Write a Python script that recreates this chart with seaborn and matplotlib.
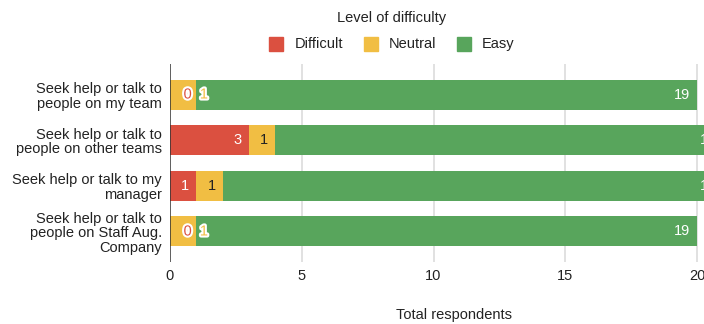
import matplotlib
matplotlib.use("Agg")
import matplotlib.pyplot as plt
import matplotlib.patheffects as pe
from matplotlib.patches import Rectangle
import seaborn as sns
import pandas as pd
import numpy as np

# --- data -------------------------------------------------------------
activities = [
    "Seek help or talk to\npeople on my team",
    "Seek help or talk to\npeople on other teams",
    "Seek help or talk to my\nmanager",
    "Seek help or talk to\npeople on Staff Aug.\nCompany",
]
levels = ["Difficult", "Neutral", "Easy"]
difficult = [0, 3, 1, 0]
neutral = [1, 1, 1, 1]
easy = [19, 17, 19, 19]
x_ticks = [0, 5, 10, 15, 20, 25]

colors = {"Difficult": "#DB5040", "Neutral": "#F1BE43", "Easy": "#58A55C"}
label_colors = {"Difficult": "white", "Neutral": "#222222", "Easy": "white"}

values = {"Difficult": np.array(difficult), "Neutral": np.array(neutral), "Easy": np.array(easy)}
cum_end = {}
running = np.zeros(len(activities))
for lv in levels:
    running = running + values[lv]
    cum_end[lv] = running.copy()

df = pd.DataFrame({"activity": activities})
for lv in levels:
    df[lv + "_end"] = cum_end[lv]

sns.set_theme(style="white")
plt.rcParams["font.family"] = ["Liberation Sans", "DejaVu Sans"]

W, H = 704, 324
fig = plt.figure(figsize=(W / 100, H / 100), dpi=100)
px_per_unit = 26.35
xmax = 25
ax = fig.add_axes([170 / W, 62 / H, xmax * px_per_unit / W, 198 / H])

# stacked bars: draw cumulative totals from the back to the front
for lv in reversed(levels):
    sns.barplot(data=df, x=lv + "_end", y="activity", orient="h",
                color=colors[lv], width=0.657, linewidth=0,
                saturation=1, ax=ax)

ax.set_xlim(0, xmax)
ax.set_ylim(3.668, -0.668)
ax.set_xticks(x_ticks)
ax.set_xticklabels([str(t) for t in x_ticks])
ax.set_xlabel("")
ax.set_ylabel("")
for s in ax.spines.values():
    s.set_visible(False)
ax.tick_params(axis="both", length=0, labelsize=10.5, colors="#222222")
ax.tick_params(axis="x", pad=5)
ax.tick_params(axis="y", pad=5.8)
for t in ax.get_yticklabels():
    t.set_linespacing(1.05)

for t in x_ticks[1:]:
    ax.axvline(t, color="#D9D9D9", lw=1.1, zorder=0)
ax.axvline(0, color="#333333", lw=1.1, zorder=5)

# value labels at the end of each segment
off = -7 * 0.72
stroke = [pe.withStroke(linewidth=3, foreground="white")]
for i in range(len(activities)):
    if difficult[i] == 0:
        n_end = cum_end["Neutral"][i]
        ax.annotate(str(difficult[i]), (n_end, i), xytext=(-4.5 * 0.72, 0),
                    textcoords="offset points", ha="right", va="center",
                    fontsize=10.5, color=colors["Difficult"], path_effects=stroke, zorder=6)
        ax.annotate(str(neutral[i]), (n_end, i), xytext=(3.5 * 0.72, 0),
                    textcoords="offset points", ha="left", va="center",
                    fontsize=10.5, color=colors["Neutral"], path_effects=stroke, zorder=6)
        lv_list = ["Easy"]
    else:
        lv_list = levels
    for lv in lv_list:
        ax.annotate(str(values[lv][i]), (cum_end[lv][i], i), xytext=(off, 0),
                    textcoords="offset points", ha="right", va="center",
                    fontsize=10.5, color=label_colors[lv], zorder=6)

# axis title
fig.text(454 / W, 1 - 315 / H, "Total respondents", ha="center", va="center",
         fontsize=10.5, color="#222222")

# legend
fig.text(392 / W, 1 - 18 / H, "Level of difficulty", ha="center", va="center",
         fontsize=10.5, color="#222222")
sq_x = [269, 364, 457]
txt_x = [295, 389, 482]
for lv, sx, tx in zip(levels, sq_x, txt_x):
    fig.patches.append(Rectangle((sx / W, 1 - 51 / H), 14 / W, 14 / H,
                                 transform=fig.transFigure, color=colors[lv]))
    fig.text(tx / W, 1 - 44 / H, lv, ha="left", va="center",
             fontsize=10.5, color="#222222")

fig.savefig("out.png", dpi=100)
